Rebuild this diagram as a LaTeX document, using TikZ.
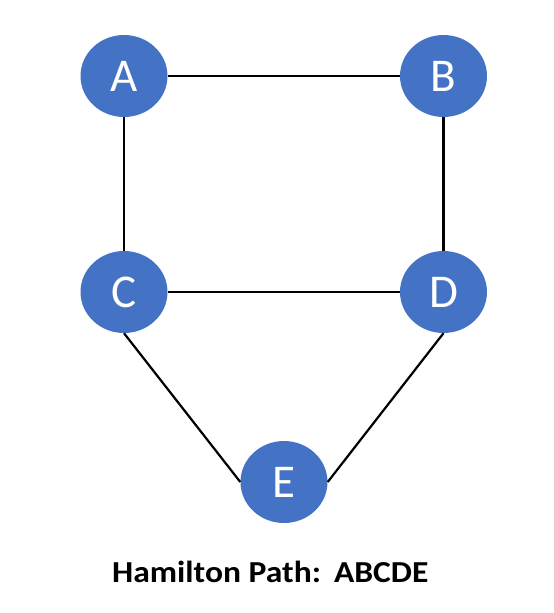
\documentclass[tikz,border=0pt]{standalone}
\usepackage{fontspec}
\setmainfont{Carlito}
\newfontfamily\labfont[FakeStretch=1.1]{Carlito}
\usetikzlibrary{shapes.geometric}
\definecolor{nodeblue}{HTML}{4472C4}
\begin{document}
\begin{tikzpicture}[x=1pt,y=-1pt,
  vert/.style={ellipse,fill=nodeblue,draw=none,minimum width=87pt,minimum height=82pt,inner sep=0pt,
    text=white,font=\fontsize{47}{47}\selectfont},
  edge/.style={black,line width=2.2pt}]
\useasboundingbox (0,0) rectangle (554,613);
\node[vert] (A) at (124,76) {A};
\node[vert] (B) at (443.5,76) {B};
\node[vert] (C) at (124,292) {C};
\node[vert] (D) at (443.5,292) {D};
\node[vert] (E) at (284,482) {E};
\draw[edge] (A.east) -- (B.west);
\draw[edge] (A.south) -- (C.north);
\draw[edge] (B.south) -- (D.north);
\draw[edge] (C.east) -- (D.west);
\draw[edge] (C.south) -- (E.west);
\draw[edge] (D.south) -- (E.east);
\node[anchor=base west,inner sep=0pt,font=\labfont\bfseries\fontsize{30.5}{30.5}\selectfont] (label) at (112,582) {Hamilton Path:\hspace{13pt}ABCDE};
\end{tikzpicture}
\end{document}
